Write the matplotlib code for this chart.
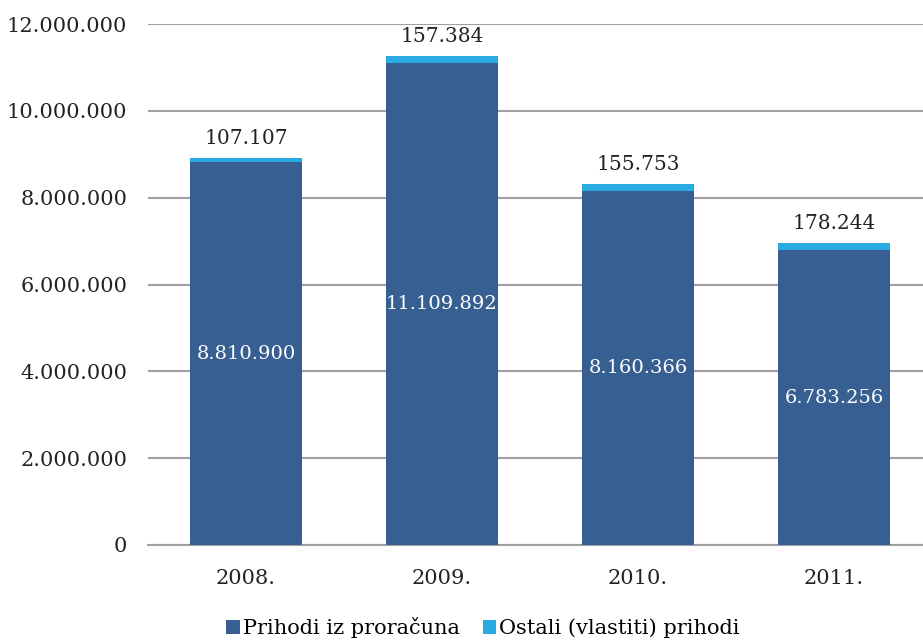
import matplotlib.pyplot as plt
import numpy as np

years = ["2008.", "2009.", "2010.", "2011."]
proracun = [8810900, 11109892, 8160366, 6783256]
vlastiti = [107107, 157384, 155753, 178244]
yticks = [0, 2000000, 4000000, 6000000, 8000000, 10000000, 12000000]


def fmt(v):
    return f"{v:,}".replace(",", ".")


plt.rcParams['font.family'] = ['DejaVu Serif']
fig = plt.figure(figsize=(9.23, 6.42), dpi=100)
ax = fig.add_axes([148 / 923, 97 / 642, 784 / 923, 521 / 642])

x = np.arange(len(years))
dark = "#375F92"
light = "#29ABE2"
b1 = ax.bar(x, proracun, width=0.57, color=dark, label="Prihodi iz proračuna", zorder=3)
b2 = ax.bar(x, vlastiti, width=0.57, bottom=proracun, color=light,
            label="Ostali (vlastiti) prihodi", zorder=3)

for i in range(len(years)):
    ax.text(x[i], proracun[i] / 2, fmt(proracun[i]), ha="center", va="center",
            color="white", fontsize=14, zorder=4)
    ax.text(x[i], proracun[i] + vlastiti[i] + 230000, fmt(vlastiti[i]),
            ha="center", va="bottom", color="#222222", fontsize=14.5, zorder=4)

ax.set_xlim(-0.5, 3.5)
ax.set_ylim(0, 12000000)
ax.set_yticks(yticks)
ax.set_yticklabels([fmt(v) for v in yticks])
ax.set_xticks(x)
ax.set_xticklabels(years)
ax.tick_params(axis="both", length=0, labelsize=15, colors="#222222")
ax.tick_params(axis="y", pad=15)
ax.tick_params(axis="x", pad=17)
ax.grid(axis="y", color="#A0A0A0", linewidth=1.5, zorder=0)
for s in ["top", "right", "left"]:
    ax.spines[s].set_visible(False)
ax.spines["bottom"].set_color("#A0A0A0")
ax.spines["bottom"].set_linewidth(1.5)

fig.legend(handles=[b1, b2], loc="center", bbox_to_anchor=(483 / 923, 1 - 628 / 642),
           ncol=2, frameon=False, fontsize=15, handlelength=0.65, handleheight=0.65,
           handletextpad=0.15, columnspacing=1.1)

fig.savefig("out.png", dpi=100)
